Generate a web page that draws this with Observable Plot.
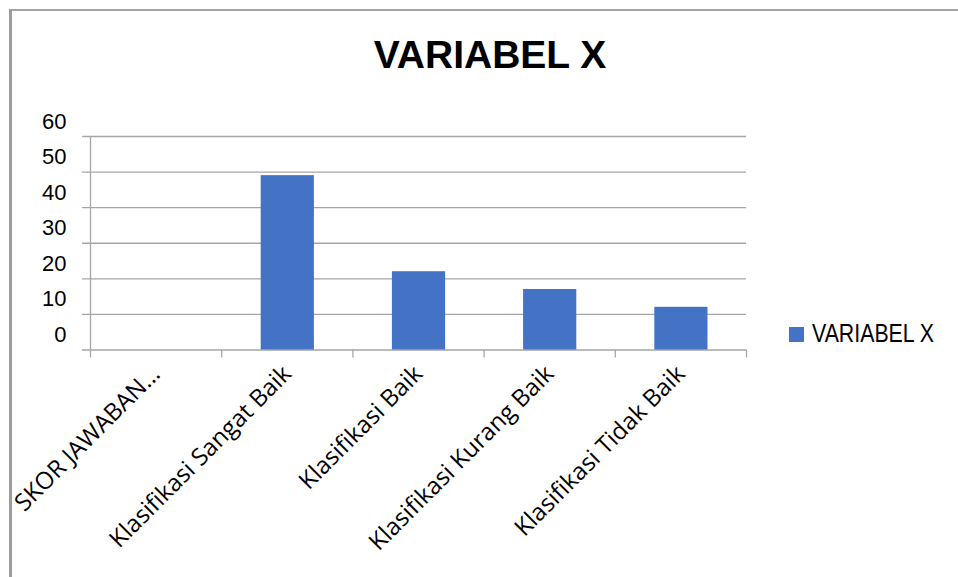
<!DOCTYPE html>
<html>
<head>
<meta charset="utf-8">
<script src="https://cdn.jsdelivr.net/npm/d3@7"></script>
<script src="https://cdn.jsdelivr.net/npm/@observablehq/plot@0.6"></script>
<style>
  html, body { margin: 0; padding: 0; background: #fff; overflow: hidden; }
  #wrap { position: relative; width: 958px; height: 577px; }
  #frame { position: absolute; left: 9px; top: 9px; width: 960px; height: 600px;
           border-left: 3px solid #9c9c9c; border-top: 2px solid #a4a4a4; box-sizing: border-box; }
  #title { position: absolute; left: 0; width: 980px; top: 33px; text-align: center; white-space: nowrap;
           font-family: "Liberation Sans", Arial, sans-serif; font-weight: bold; font-size: 39px; color: #000; }
  #legend { position: absolute; left: 789px; top: 327px; white-space: nowrap; }
  #legend .sw { position: absolute; left: 0; top: 0; width: 15px; height: 15px; background: #4472C4; }
  #legend span { position: absolute; left: 23px; top: -9px; display: inline-block; transform-origin: 0 0; transform: scaleX(0.82);
            font-family: "Liberation Sans", Arial, sans-serif; font-size: 26px; color: #000; }
  #chart { position: absolute; left: 0; top: 0; }
</style>
</head>
<body>
<div id="wrap">
  <div id="frame"></div>
  <div id="chart"></div>
  <div id="title">VARIABEL X</div>
  <div id="legend"><div class="sw"></div><span>VARIABEL X</span></div>
</div>
<script>
const categories = ["SKOR JAWABAN…", "Klasifikasi Sangat Baik", "Klasifikasi Baik", "Klasifikasi Kurang Baik", "Klasifikasi Tidak Baik"];
const values = [0, 49, 22, 17, 12];
const yTicks = [0, 10, 20, 30, 40, 50, 60];
const seriesName = "VARIABEL X";
const barColor = "#4472C4";
const gridColor = "#a6a6a6";

const data = categories.map((c, i) => ({idx: i, category: c, value: values[i]}));
const boundaries = d3.range(categories.length + 1);
const centers = categories.map((c, i) => i + 0.5);

const chart = Plot.plot({
  width: 958,
  height: 577,
  marginTop: 136,
  marginBottom: 227.5,
  marginLeft: 90,
  marginRight: 212,
  style: {background: "transparent", overflow: "visible"},
  x: {domain: [0, categories.length], label: null},
  y: {domain: [0, 60], label: null},
  marks: [
    Plot.ruleY(yTicks, {stroke: gridColor, strokeWidth: 1.3, insetLeft: -8}),
    Plot.ruleX([0], {stroke: gridColor, strokeWidth: 1.3}),
    Plot.axisX({ticks: boundaries, tickSize: 8, tickFormat: () => "", stroke: gridColor, strokeWidth: 1.3, label: null}),
    Plot.axisX({ticks: centers, tickSize: 0, tickPadding: 20, tickRotate: -45,
      tickFormat: (d) => categories[Math.round(d - 0.5)], label: null,
      fontSize: 24, fontFamily: "Open Sans", fill: "#000"}),
    Plot.axisY({ticks: yTicks, tickSize: 0, tickPadding: 24, dy: -15, label: null,
      fontSize: 22, fontFamily: "Liberation Sans", fill: "#000"}),
    Plot.rectY(data, {x1: "idx", x2: (d) => d.idx + 1, y: "value", fill: barColor, insetLeft: 39.5, insetRight: 38.5})
  ]
});
document.getElementById("chart").appendChild(chart);
document.querySelector("#legend span").textContent = seriesName;
</script>
</body>
</html>
